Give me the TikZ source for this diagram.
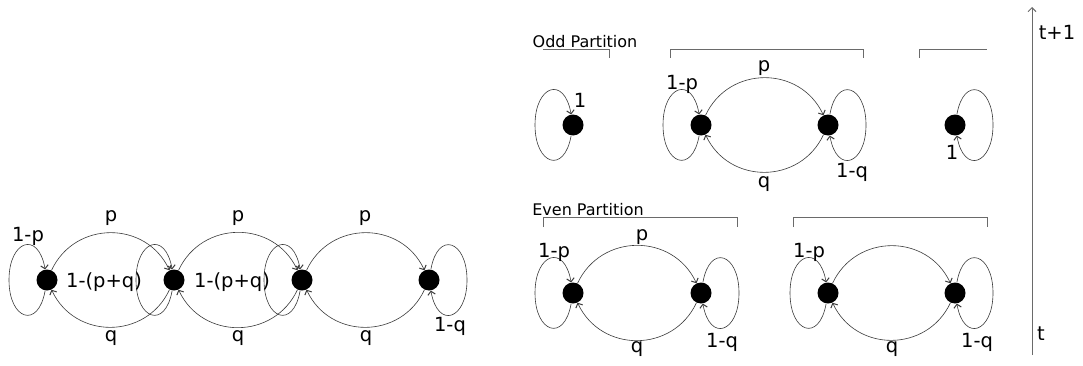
\documentclass[tikz,border=0pt]{standalone}
\usepackage{fontspec}
\setmainfont{DejaVu Sans}
\usetikzlibrary{
  arrows.meta,
  positioning
}
\definecolor{chainInk}{HTML}{3A3A3A}
\definecolor{bracketGray}{HTML}{6A6A6A}
\tikzset{
  stateDot/.style={circle, fill=black, minimum size=21pt, inner sep=0pt},
  transEdge/.style={
    -{Straight Barb[length=3.5pt, width=7.5pt, line width=1pt]},
    line width=0.6pt,
    draw=chainInk
  },
  pArc/.style={out=65, in=115, looseness=1.2},
  qArc/.style={out=-115, in=-65, looseness=1.2},
  loopOut/.style={looseness=2.7},
  probLabel/.style={font=\fontsize{19.5}{22}\selectfont, inner sep=1pt},
  partLabel/.style={font=\fontsize{16}{19}\selectfont, inner sep=1pt},
  partBracket/.style={draw=bracketGray, line width=0.9pt},
  timeArrow/.style={-{Straight Barb[length=4pt, width=8pt, line width=1pt]}, line width=0.8pt, draw=bracketGray}
}
% self loops, drawn through a point beside the state
\newcommand{\loopWest}[1]{%
  \draw[transEdge] (#1) to[loopOut, out=260, in=270] ([xshift=-38pt]#1.center)
    to[loopOut, out=90, in=100] (#1);}
\newcommand{\loopEast}[1]{%
  \draw[transEdge] (#1) to[loopOut, out=80, in=90] ([xshift=38pt]#1.center)
    to[loopOut, out=270, in=280] (#1);}

\begin{document}
\begin{tikzpicture}[x=1pt,y=1pt]
  \useasboundingbox (0,0) rectangle (1083,365);

  % chain at time t
  \node[stateDot] (c1) at (47,85)  {};
  \node[stateDot] (c2) at (174,85) {};
  \node[stateDot] (c3) at (302,85) {};
  \node[stateDot] (c4) at (429,85) {};

  \draw[transEdge] (c1) to[pArc] (c2);
  \draw[transEdge] (c2) to[pArc] (c3);
  \draw[transEdge] (c3) to[pArc] (c4);
  \draw[transEdge] (c2) to[qArc] (c1);
  \draw[transEdge] (c3) to[qArc] (c2);
  \draw[transEdge] (c4) to[qArc] (c3);
  \loopWest{c1}
  \loopWest{c2}
  \loopWest{c3}
  \loopEast{c4}

  \node[probLabel] (c1stay) at (28,129)  {1-p};
  \node[probLabel] (c12p)   at (111,147) {p};
  \node[probLabel] (c23p)   at (238,147) {p};
  \node[probLabel] (c34p)   at (365,147) {p};
  \node[probLabel] (c21q)   at (111,27)  {q};
  \node[probLabel] (c32q)   at (238,27)  {q};
  \node[probLabel] (c43q)   at (366,27)  {q};
  \node[probLabel] (c2stay) at (104,83)  {1-(p+q)};
  \node[probLabel] (c3stay) at (232,83)  {1-(p+q)};
  \node[probLabel] (c4stay) at (450,39)  {1-q};

  % odd partition, time t+1
  \node[partLabel] (oddTitle) at (585,323) {Odd Partition};
  \draw[partBracket] (543,316) -- (609,316) -- (609,307);
  \draw[partBracket] (670,307) -- (670,316) -- (863,316) -- (863,307);
  \draw[partBracket] (919,307) -- (919,316) -- (987,316);

  \node[stateDot] (o1) at (573,240) {};
  \node[stateDot] (o2) at (701,240) {};
  \node[stateDot] (o3) at (828,240) {};
  \node[stateDot] (o4) at (955,240) {};

  \loopWest{o1}
  \loopWest{o2}
  \draw[transEdge] (o2) to[pArc] (o3);
  \draw[transEdge] (o3) to[qArc] (o2);
  \loopEast{o3}
  \loopEast{o4}

  \node[probLabel] (o1stay) at (580,265) {1};
  \node[probLabel] (o2stay) at (682,281) {1-p};
  \node[probLabel] (o23p)   at (764,297) {p};
  \node[probLabel] (o32q)   at (764,181) {q};
  \node[probLabel] (o3stay) at (852,193) {1-q};
  \node[probLabel] (o4stay) at (952,213) {1};

  % even partition, time t
  \node[partLabel] (evenTitle) at (588,155) {Even Partition};
  \draw[partBracket] (543,138) -- (543,148) -- (737,148) -- (737,138);
  \draw[partBracket] (793,138) -- (793,148) -- (987,148) -- (987,138);

  \node[stateDot] (e1) at (573,72) {};
  \node[stateDot] (e2) at (701,72) {};
  \node[stateDot] (e3) at (828,72) {};
  \node[stateDot] (e4) at (955,72) {};

  \loopWest{e1}
  \draw[transEdge] (e1) to[pArc] (e2);
  \draw[transEdge] (e2) to[qArc] (e1);
  \loopEast{e2}
  \loopWest{e3}
  \draw[transEdge] (e3) to[pArc] (e4);
  \draw[transEdge] (e4) to[qArc] (e3);
  \loopEast{e4}

  \node[probLabel] (e1stay) at (554,113) {1-p};
  \node[probLabel] (e12p)   at (642,128) {p};
  \node[probLabel] (e21q)   at (637,16)  {q};
  \node[probLabel] (e2stay) at (722,23)  {1-q};
  \node[probLabel] (e3stay) at (809,113) {1-p};
  \node[probLabel] (e43q)   at (892,16)  {q};
  \node[probLabel] (e4stay) at (977,23)  {1-q};

  % time axis
  \coordinate (tLow)  at (1032,10);
  \coordinate (tHigh) at (1032,358);
  \draw[timeArrow] (tLow) -- (tHigh);
  \node[probLabel] (tNext) at (1057,333) {t+1};
  \node[probLabel] (tNow)  at (1041,31)  {t};
\end{tikzpicture}
\end{document}
